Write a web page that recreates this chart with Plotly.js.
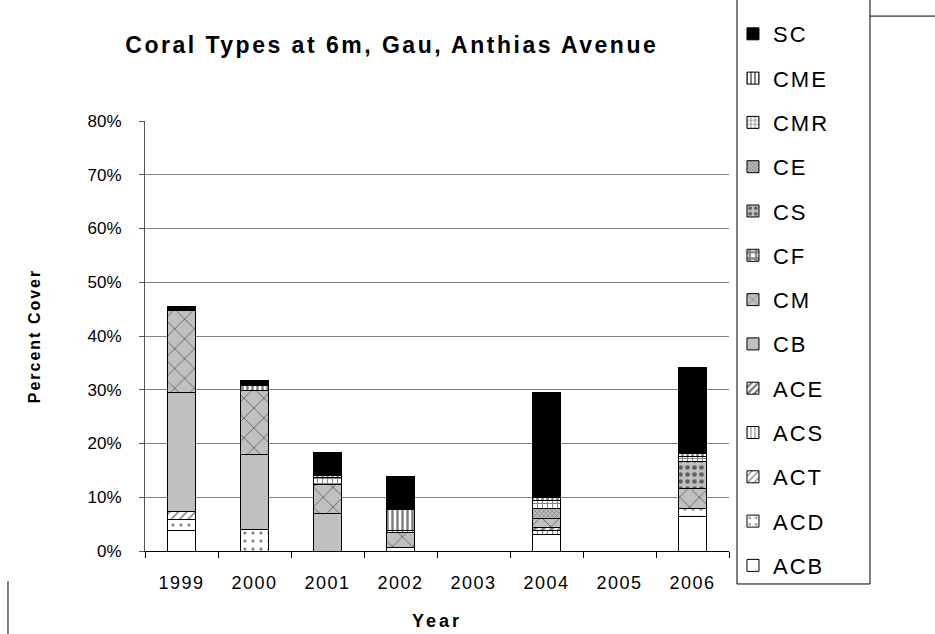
<!DOCTYPE html>
<html>
<head>
<meta charset="utf-8">
<script src="https://cdn.plot.ly/plotly-3.0.1.min.js"></script>
<style>
html,body{margin:0;padding:0;background:#fff;}
#chart{width:935px;height:634px;}
#chart .gtitle{letter-spacing:2.5px;}
#chart .legendtext{letter-spacing:2px;}
#chart .xtick text{letter-spacing:1.5px;}
#chart .g-xtitle text{letter-spacing:3px;}
#chart .g-ytitle text{letter-spacing:2px;}
</style>
</head>
<body>
<div id="chart"></div>
<script>
const years = ['1999','2000','2001','2002','2003','2004','2005','2006'];
const ACB = [3.9, 0, 0, 0.6, 0, 3.0, 0, 6.5];
const ACD = [2.0, 4.0, 0, 0, 0, 0, 0, 1.5];
const ACT = [1.5, 0, 0, 0, 0, 0, 0, 0];
const ACS = [0, 0, 0, 0, 0, 0.9, 0, 0];
const ACE = [0, 0, 0, 0, 0, 0.5, 0, 0];
const CB  = [22.1, 14.0, 6.9, 0, 0, 0, 0, 0];
const CM  = [15.3, 11.9, 5.4, 2.8, 0, 1.7, 0, 3.6];
const CF  = [0, 0, 0, 0, 0, 0, 0, 0];
const CS  = [0, 0, 0, 0, 0, 0, 0, 5.0];
const CE  = [0, 0, 0, 0, 0, 1.9, 0, 0];
const CMR = [0, 0, 1.4, 0.5, 0, 1.4, 0, 1.0];
const CME = [0, 0.9, 0.4, 3.8, 0, 0.5, 0, 0.5];
const SC  = [0.7, 1.0, 4.3, 6.1, 0, 19.6, 0, 16.1];

const seriesNames = ['ACB','ACD','ACT','ACS','ACE','CB','CM','CF','CS','CE','CMR','CME','SC'];
const seriesValues = [ACB,ACD,ACT,ACS,ACE,CB,CM,CF,CS,CE,CMR,CME,SC];
const styles = {
  ACB: {color:'#ffffff', pattern:{shape:''}},
  ACD: {color:'#ffffff', pattern:{shape:'.', fgcolor:'#000', size:8, solidity:0.12, fillmode:'overlay'}},
  ACT: {color:'#ffffff', pattern:{shape:'/', fgcolor:'#000', size:6, solidity:0.25, fillmode:'overlay'}},
  ACS: {color:'#ffffff', pattern:{shape:'|', fgcolor:'#000', size:5, solidity:0.25, fillmode:'overlay'}},
  ACE: {color:'#ffffff', pattern:{shape:'/', fgcolor:'#000', size:6, solidity:0.5, fillmode:'overlay'}},
  CB:  {color:'#c0c0c0', pattern:{shape:''}},
  CM:  {color:'#c0c0c0', pattern:{shape:'x', fgcolor:'#000', size:14, solidity:0.12, fillmode:'overlay'}},
  CF:  {color:'#ffffff', pattern:{shape:'+', fgcolor:'#000', size:8, solidity:0.6, fillmode:'overlay'}},
  CS:  {color:'#c0c0c0', pattern:{shape:'.', fgcolor:'#000', size:7, solidity:0.35, fillmode:'overlay'}},
  CE:  {color:'#c0c0c0', pattern:{shape:'x', fgcolor:'#333', size:3, solidity:0.4, fillmode:'overlay'}},
  CMR: {color:'#ffffff', pattern:{shape:'+', fgcolor:'#000', size:5, solidity:0.35, fillmode:'overlay'}},
  CME: {color:'#ffffff', pattern:{shape:'|', fgcolor:'#000', size:5, solidity:0.5, fillmode:'overlay'}},
  SC:  {color:'#000000', pattern:{shape:''}}
};

const traces = seriesNames.map((n, i) => ({
  type: 'bar',
  name: n,
  x: years,
  y: seriesValues[i],
  legendgroup: n,
  legendrank: 100 - i,
  marker: {color: styles[n].color, pattern: styles[n].pattern, line: {color: '#000', width: 1}},
  hoverinfo: 'x+y+name'
}));

const font = 'Arial, "Liberation Sans", sans-serif';
const layout = {
  width: 935, height: 634,
  margin: {l: 145, r: 206, t: 121, b: 83, autoexpand: false},
  paper_bgcolor: '#fff', plot_bgcolor: '#fff',
  barmode: 'stack',
  bargap: 0.61,
  font: {family: font, size: 16, color: '#000'},
  title: {text: '<b>Coral Types at 6m, Gau, Anthias Avenue</b>', font: {family: font, size: 23, color: '#000'},
          xref: 'container', x: 0.419, xanchor: 'center', yref: 'container', y: 0.929, yanchor: 'middle'},
  xaxis: {
    type: 'category', showline: true, linecolor: '#000', linewidth: 1,
    ticks: 'outside', tickson: 'boundaries', ticklen: 6, tickcolor: '#000',
    ticklabelstandoff: 15,
    tickfont: {family: font, size: 18}, showgrid: false,
    title: {text: '<b>Year</b>', font: {family: font, size: 18}, standoff: 22}
  },
  yaxis: {
    range: [0, 80], dtick: 10, ticksuffix: '%', showline: true, linecolor: '#555', linewidth: 1,
    ticks: 'outside', ticklen: 5, tickcolor: '#555',
    ticklabelstandoff: 14,
    gridcolor: '#808080', gridwidth: 1, zeroline: false,
    tickfont: {family: font, size: 17},
    title: {text: '<b>Percent Cover</b>', font: {family: font, size: 16}, standoff: 42}
  },
  legend: {
    traceorder: 'grouped', tracegroupgap: 12.7,
    x: 1.0068, xanchor: 'left', yref: 'container', y: 0.9795, yanchor: 'top',
    bgcolor: 'rgba(0,0,0,0)', borderwidth: 0, maxheight: 634,
    font: {family: font, size: 22}, itemwidth: 30
  },
  shapes: [
    {type: 'rect', xref: 'paper', yref: 'paper', x0: 1.0137, x1: 1.2414, y0: -0.0767, y1: 1.29,
     fillcolor: '#fff', line: {color: '#000', width: 1}, layer: 'above'},
    {type: 'line', xref: 'paper', yref: 'paper', x0: -0.2346, x1: -0.2346, y0: -0.07, y1: -0.25, line: {color: '#000', width: 1}},
    {type: 'line', xref: 'paper', yref: 'paper', x0: 1.2414, x1: 1.353, y0: 1.244, y1: 1.244, line: {color: '#000', width: 1}}
  ]
};

Plotly.newPlot('chart', traces, layout, {displayModeBar: false, staticPlot: true});
</script>
</body>
</html>
